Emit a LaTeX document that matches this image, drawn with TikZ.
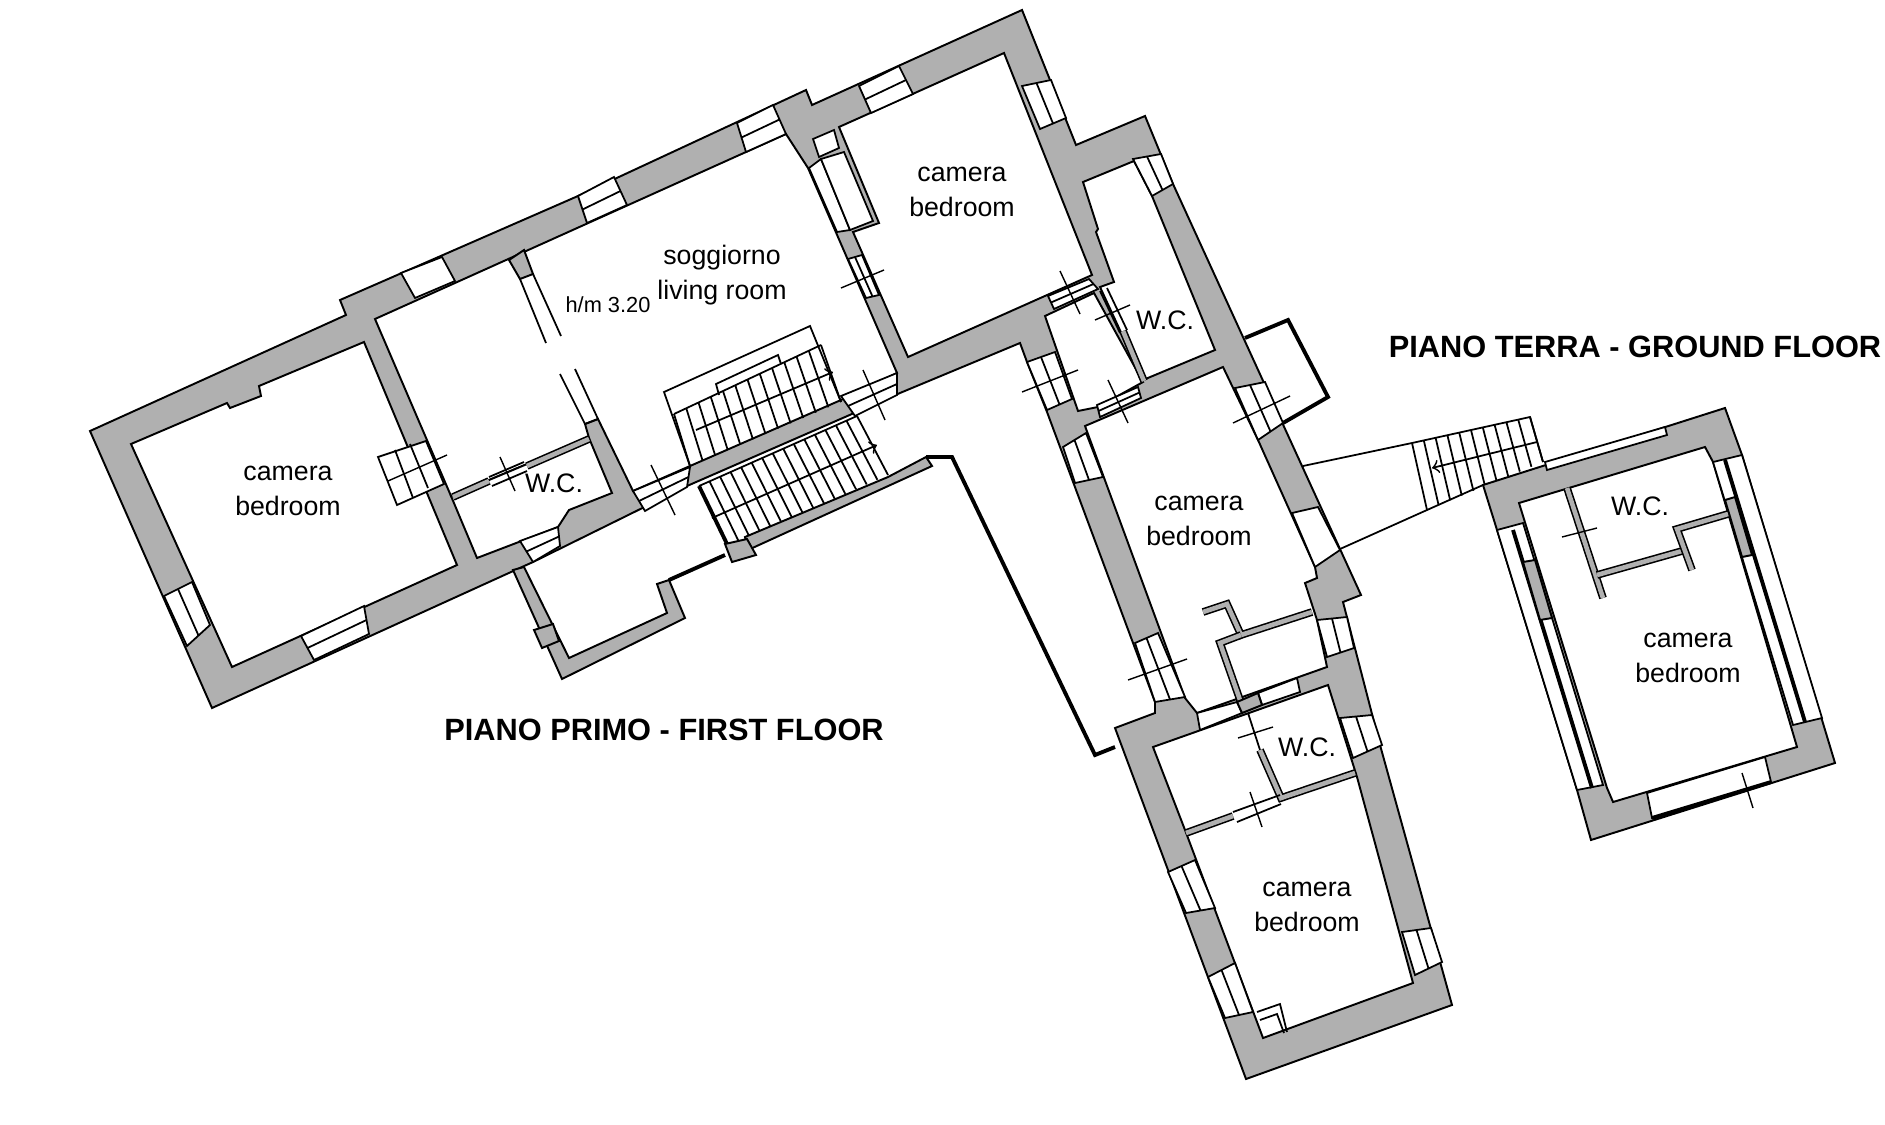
\documentclass[tikz,border=0pt]{standalone}
\usepackage{fontspec}
\setmainfont{Liberation Sans}
\usetikzlibrary{calc}

\definecolor{wallgray}{gray}{0.69}

\tikzset{
	wall/.style={draw=black, line width=0.55pt, fill=wallgray, line join=miter},
	room/.style={draw=black, line width=0.55pt, fill=white},
	win/.style={draw=black, line width=0.5pt, fill=white},
	thinline/.style={draw=black, line width=0.5pt},
	heavyline/.style={draw=black, line width=1.1pt},
	thinwall/.style={double=wallgray, double distance=1.3pt, line width=0.45pt},
	doormark/.style={draw=black, line width=0.4pt},
	roomlabel/.style={align=center, inner sep=0pt, font=\fontsize{7.6}{9.9}\selectfont},
	titlelabel/.style={inner sep=0pt, font=\fontsize{8.75}{10}\selectfont\bfseries},
}

\begin{document}
\begin{tikzpicture}[x=0.01cm, y=-0.01cm]
	\useasboundingbox (0,0) rectangle (1885,1124);

	% first floor, all the masonry in one piece
	\path[wall] (90,431) -- (346,315) -- (340,300) -- (578,196) -- (806,90) -- (812,105) -- (1022,10) -- (1076,145) -- (1145,116) -- (1173,184) -- (1361,595) -- (1343,602) -- (1380,745) -- (1452,1005) -- (1246,1079) -- (1115,728) -- (1155,713) -- (1155,702) -- (1047,412) -- (1027,362) -- (1020,343) -- (900,393) -- (687,486) -- (533,562) -- (212,708) -- cycle;

	% rooms
	\path[room] (131,444) -- (227,403) -- (230,408) -- (261,396) -- (259,386) -- (364,342) -- (457,565) -- (232,667) -- cycle;
	\path[room] (375,319) -- (786,134) -- (808,168) -- (897,373) -- (841,400) -- (690,466) -- (633,491) -- (598,419) -- (585,424) -- (589,438) -- (451,496) -- cycle;
	\path[room] (451,496) -- (589,438) -- (612,493) -- (569,510) -- (558,527) -- (477,558) -- cycle;
	\path[room] (839,127) -- (1004,53) -- (1092,275) -- (908,357) -- (853,232) -- (879,223) -- cycle;
	\path[room] (1083,182) -- (1134,161) -- (1152,196) -- (1215,350) -- (1143,380) -- (1100,287) -- (1114,282) -- (1096,232) -- (1098,229) -- cycle;
	\path[room] (1045,316) -- (1094,293) -- (1143,382) -- (1098,407) -- (1078,411) -- cycle;
	\path[room] (1085,426) -- (1223,367) -- (1258,440) -- (1315,567) -- (1317,578) -- (1305,583) -- (1317,620) -- (1327,667) -- (1197,713) -- (1185,698) -- cycle;
	\path[room] (1153,747) -- (1328,685) -- (1357,777) -- (1413,983) -- (1263,1038) -- (1185,830) -- cycle;

	% windows and door openings
	\foreach \a/\b/\c/\d in {
		{578,196}/{614,177}/{627,205}/{587,223},
		{737,123}/{773,105}/{786,134}/{746,152},
		{859,86}/{899,66}/{913,94}/{871,113},
		{1051,80}/{1066,118}/{1040,129}/{1022,86},
		{1161,154}/{1173,184}/{1152,196}/{1133,159},
		{1265,382}/{1283,423}/{1258,440}/{1235,388},
		{1063,447}/{1075,483}/{1103,477}/{1086,433},
		{1135,643}/{1155,702}/{1185,697}/{1158,633},
		{1347,617}/{1354,648}/{1327,657}/{1317,620},
		{1372,715}/{1382,745}/{1353,758}/{1340,718},
		{1431,928}/{1442,962}/{1415,975}/{1402,932},
		{1168,872}/{1186,913}/{1215,908}/{1195,860},
		{1208,977}/{1225,1018}/{1253,1012}/{1235,963},
		{164,596}/{187,646}/{210,625}/{192,582},
		{301,636}/{364,606}/{369,634}/{314,660},
		{520,541}/{558,527}/{560,546}/{533,562},
		{633,491}/{690,467}/{687,487}/{645,511},
		{841,396}/{897,373}/{897,395}/{855,416},
		{1048,296}/{1089,279}/{1098,289}/{1054,309},
		{1027,362}/{1047,410}/{1072,399}/{1055,352},
		{1097,405}/{1138,387}/{1141,398}/{1100,417},
		{848,259}/{866,298}/{879,295}/{862,255}}{
		\path[win] (\a) -- (\b) -- (\c) -- (\d) -- cycle;
		\draw[thinline] ($(\a)!0.5!(\d)$) -- ($(\b)!0.5!(\c)$);
	}
	\foreach \a/\b/\c/\d in {
		{401,273}/{442,257}/{455,281}/{415,298},
		{1292,513}/{1318,507}/{1340,550}/{1315,567},
		{1197,713}/{1237,702}/{1242,713}/{1200,730},
		{1258,693}/{1297,678}/{1300,692}/{1262,705}}{
		\path[win] (\a) -- (\b) -- (\c) -- (\d) -- cycle;
	}

	% small window with grid, left room
	\path[win] (378,457) -- (426,441) -- (444,484) -- (397,505) -- cycle;
	\draw[thinline] (395,450) -- (413,498);
	\draw[thinline] (410,444) -- (428,488);
	\draw[doormark] (388,481) -- (447,455);

	% upper flight
	\coordinate (upA) at (674,414);
	\coordinate (upB) at (821,345);
	\coordinate (upC) at (690,466);
	\coordinate (upD) at (841,402);
	\draw[thinline] (upC) -- (664,392) -- (810,326) -- (upD);
	\draw[thinline] (719,395) -- (716,384) -- (778,355) -- (781,364);
	\draw[thinline] (upA) -- (upB);
	\foreach \n in {0,...,12}{
		\draw[thinline] ($(upA)!\n/12!(upB)$) -- ($(upC)!\n/12!(upD)$);
	}
	\draw[thinline, ->] (696,430) -- (833,372);

	% lower flight
	\coordinate (loA) at (699,486);
	\coordinate (loB) at (857,416);
	\coordinate (loC) at (728,546);
	\coordinate (loD) at (888,475);
	\draw[thinline] (loA) -- (loB);
	\draw[heavyline] (loA) -- (loC);
	\foreach \n in {1,...,15}{
		\draw[thinline] ($(loA)!\n/15!(loB)$) -- ($(loC)!\n/15!(loD)$);
	}
	\draw[thinline, ->] (712,518) -- (877,445);

	% masonry below the flights, balcony
	\path[wall] (745,537) -- (888,477) -- (926,457) -- (932,466) -- (748,550) -- cycle;
	\path[wall] (513,570) -- (562,679) -- (685,618) -- (669,580) -- (657,584) -- (667,613) -- (569,658) -- (524,567) -- cycle;
	\path[wall] (534,630) -- (553,624) -- (559,641) -- (542,648) -- cycle;
	\draw[heavyline] (669,580) -- (725,555);
	\path[wall] (725,544) -- (747,539) -- (756,555) -- (732,562) -- cycle;

	% terrace and annex outlines
	\draw[heavyline] (926,457) -- (952,457) -- (1095,755) -- (1115,747);
	\draw[heavyline] (1245,338) -- (1288,320) -- (1328,397) -- (1283,423);

	% partition left part
	\draw[thinwall] (453,497) -- (489,481);
	\draw[thinwall] (527,466) -- (589,439);
	\draw[thinline] (489,477) -- (524,462);
	\draw[thinline] (492,486) -- (527,471);
	\path[wall] (509,260) -- (524,250) -- (533,274) -- (520,279) -- cycle;
	\draw[thinline] (520,279) -- (546,343);
	\draw[thinline] (533,274) -- (561,336);
	\draw[thinline] (560,374) -- (585,424);
	\draw[thinline] (575,369) -- (598,419);
	\draw[thinline] (585,424) -- (598,419);

	% cupboards at the top bedroom
	\path[win] (809,168) -- (821,159) -- (850,230) -- (837,232) -- cycle;
	\path[win] (821,159) -- (844,152) -- (873,221) -- (850,230) -- cycle;
	\path[win] (813,139) -- (834,130) -- (839,148) -- (819,157) -- cycle;

	% partitions right part
	\draw[thinline] (1100,291) -- (1120,333);
	\draw[thinline] (1107,288) -- (1127,330);
	\draw[thinwall] (1123,331) -- (1144,381);
	\draw[thinwall] (1203,612) -- (1227,604) -- (1241,635) -- (1312,612);
	\draw[thinwall] (1241,635) -- (1220,643) -- (1240,700);
	\path[wall] (1237,702) -- (1258,693) -- (1262,705) -- (1242,713) -- cycle;
	\draw[thinline] (1248,713) -- (1260,750);
	\draw[thinwall] (1260,750) -- (1281,798) -- (1355,773);
	\draw[thinwall] (1186,833) -- (1233,816);
	\draw[thinline] (1233,812) -- (1280,795);
	\draw[thinline] (1237,822) -- (1281,804);
	\draw[thinline] (1257,1012) -- (1280,1004) -- (1287,1032);
	\draw[thinline] (1260,1020) -- (1277,1014) -- (1284,1033);

	% door marks
	\draw[doormark] (500,457) -- (515,491);
	\draw[doormark] (651,465) -- (675,515);
	\draw[doormark] (841,288) -- (884,270);
	\draw[doormark] (863,370) -- (885,420);
	\draw[doormark] (1060,271) -- (1080,314);
	\draw[doormark] (1095,320) -- (1130,305);
	\draw[doormark] (1022,392) -- (1078,370);
	\draw[doormark] (1108,380) -- (1128,423);
	\draw[doormark] (1233,423) -- (1290,396);
	\draw[doormark] (1128,680) -- (1187,659);
	\draw[doormark] (1238,738) -- (1273,727);
	\draw[doormark] (1250,792) -- (1262,827);

	% outside stair, ground floor
	\coordinate (exA) at (1412,443);
	\coordinate (exB) at (1530,417);
	\coordinate (exC) at (1427,510);
	\coordinate (exD) at (1543,462);
	\draw[thinline] (1303,466) -- (exA) -- (exB) -- (exD);
	\draw[thinline] (1340,549) -- (exC) -- (1483,485);
	\foreach \n in {0,...,10}{
		\draw[thinline] ($(exA)!\n/10!(exB)$) -- ($(exC)!\n/10!(exD)$);
	}
	\draw[thinline, <-] (1432,468) -- (1537,442);

	% ground floor
	\path[wall] (1483,485) -- (1725,408) -- (1742,455) -- (1835,763) -- (1591,840) -- (1577,790) -- (1497,530) -- cycle;
	\path[room] (1519,503) -- (1705,447) -- (1713,462) -- (1797,747) -- (1613,802) -- (1607,788) -- cycle;
	\path[win] (1497,530) -- (1523,523) -- (1603,785) -- (1577,790) -- cycle;
	\path[win] (1713,462) -- (1742,455) -- (1822,718) -- (1793,725) -- cycle;
	\path[win] (1545,462) -- (1665,427) -- (1667,435) -- (1547,470) -- cycle;
	\path[win] (1647,793) -- (1765,757) -- (1771,782) -- (1652,818) -- cycle;
	\draw[heavyline] (1513,530) -- (1592,788);
	\draw[heavyline] (1725,460) -- (1805,722);
	\draw[heavyline] (1652,818) -- (1771,782);
	\path[wall] (1523,562) -- (1535,560) -- (1552,618) -- (1540,620) -- cycle;
	\path[wall] (1725,500) -- (1735,497) -- (1752,555) -- (1742,557) -- cycle;
	\draw[thinwall] (1567,488) -- (1603,598);
	\draw[thinwall] (1597,575) -- (1682,551);
	\draw[thinwall] (1692,570) -- (1677,529) -- (1728,514);
	\draw[doormark] (1562,537) -- (1597,528);
	\draw[doormark] (1742,773) -- (1753,808);

	% labels
	\node[roomlabel] (bedLeft) at (288,491) {camera\\bedroom};
	\node[roomlabel] (living) at (722,275) {soggiorno\\living room};
	\node[roomlabel, font=\fontsize{6.2}{8}\selectfont] (height) at (608,305) {h/m 3.20};
	\node[roomlabel] (bedTop) at (962,192) {camera\\bedroom};
	\node[roomlabel] (bedMid) at (1199,521) {camera\\bedroom};
	\node[roomlabel] (bedLow) at (1307,907) {camera\\bedroom};
	\node[roomlabel] (bedGround) at (1688,658) {camera\\bedroom};
	\node[roomlabel] (wcLeft) at (554,483) {W.C.};
	\node[roomlabel] (wcTop) at (1165,320) {W.C.};
	\node[roomlabel] (wcLow) at (1307,747) {W.C.};
	\node[roomlabel] (wcGround) at (1640,506) {W.C.};
	\node[titlelabel] (titleFirst) at (664,730) {PIANO PRIMO - FIRST FLOOR};
	\node[titlelabel] (titleGround) at (1635,347) {PIANO TERRA - GROUND FLOOR};
\end{tikzpicture}
\end{document}
